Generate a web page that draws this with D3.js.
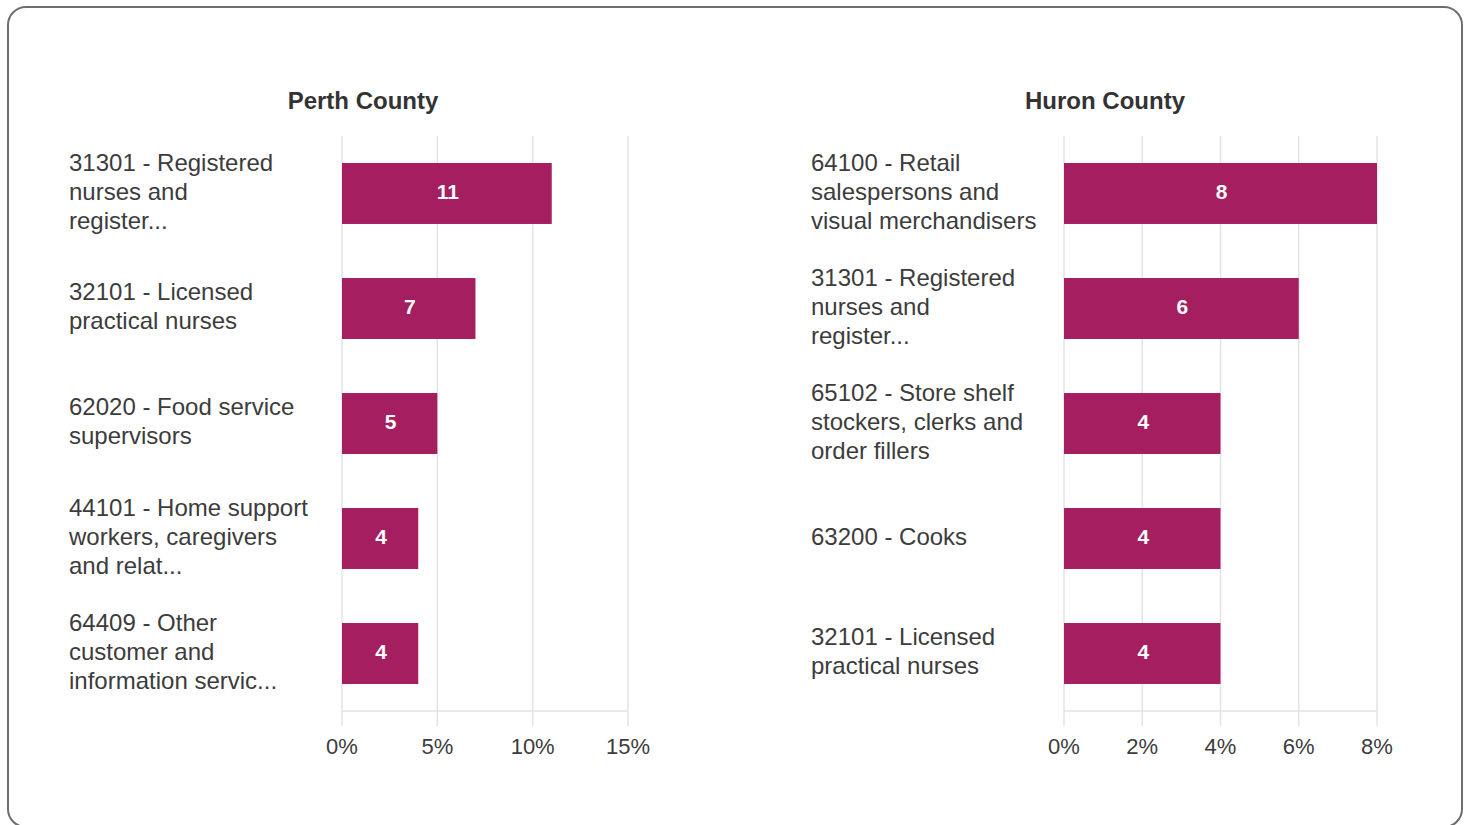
<!DOCTYPE html>
<html>
<head>
<meta charset="utf-8">
<script src="https://cdn.jsdelivr.net/npm/d3@7"></script>
<style>
  html, body { margin: 0; padding: 0; background: #fff; }
  svg { display: block; font-family: "Liberation Sans", Arial, sans-serif; }
</style>
</head>
<body>
<svg id="chart" width="1469" height="825"></svg>
<script>
// ---- Data ----
const perthTitle = "Perth County";
const perthCategories = [
  ["31301 - Registered", "nurses and", "register..."],
  ["32101 - Licensed", "practical nurses"],
  ["62020 - Food service", "supervisors"],
  ["44101 - Home support", "workers, caregivers", "and relat..."],
  ["64409 - Other", "customer and", "information servic..."]
];
const perthValues = [11, 7, 5, 4, 4];
const perthTicks = [0, 5, 10, 15];

const huronTitle = "Huron County";
const huronCategories = [
  ["64100 - Retail", "salespersons and", "visual merchandisers"],
  ["31301 - Registered", "nurses and", "register..."],
  ["65102 - Store shelf", "stockers, clerks and", "order fillers"],
  ["63200 - Cooks"],
  ["32101 - Licensed", "practical nurses"]
];
const huronValues = [8, 6, 4, 4, 4];
const huronTicks = [0, 2, 4, 6, 8];

// ---- Drawing ----
const svg = d3.select("#chart");
const barColor = "#a51e5f";
const gridColor = "#e3e3e3";
const textColor = "#3c3c3c";

svg.append("rect")
  .attr("x", 8).attr("y", 7).attr("width", 1454).attr("height", 820)
  .attr("rx", 18).attr("ry", 18)
  .attr("fill", "#fff").attr("stroke", "#6e6e6e").attr("stroke-width", 2);

function panel(cfg) {
  const g = svg.append("g");
  const x = d3.scaleLinear().domain([0, cfg.max]).range([cfg.x0, cfg.x1]);
  const y = d3.scaleBand().domain(d3.range(cfg.cats.length))
    .range([136, 711]).paddingInner(0.47).paddingOuter(0.235);

  // title
  g.append("text").attr("x", cfg.titleX).attr("y", 109)
    .attr("text-anchor", "middle").attr("font-size", 24).attr("font-weight", "bold")
    .attr("fill", "#333").text(cfg.title);

  // grid lines
  g.selectAll(".grid").data(cfg.ticks).join("line")
    .attr("x1", d => x(d)).attr("x2", d => x(d))
    .attr("y1", 136).attr("y2", 726)
    .attr("stroke", gridColor).attr("stroke-width", 1.5);
  // baseline
  g.append("line").attr("x1", cfg.x0).attr("x2", cfg.x1)
    .attr("y1", 711).attr("y2", 711)
    .attr("stroke", gridColor).attr("stroke-width", 1.5);

  // tick labels
  g.selectAll(".tick").data(cfg.ticks).join("text")
    .attr("x", d => x(d)).attr("y", 754)
    .attr("text-anchor", "middle").attr("font-size", 22)
    .attr("fill", textColor).text(d => d + "%");

  // bars
  g.selectAll(".bar").data(cfg.vals).join("rect")
    .attr("x", x(0)).attr("y", (d, i) => y(i))
    .attr("width", d => x(d) - x(0)).attr("height", y.bandwidth())
    .attr("fill", barColor);

  // bar labels
  g.selectAll(".blab").data(cfg.vals).join("text")
    .attr("x", d => (x(0) + x(d)) / 2 + 1)
    .attr("y", (d, i) => y(i) + y.bandwidth() / 2 + 5)
    .attr("text-anchor", "middle").attr("font-size", 21).attr("font-weight", "bold")
    .attr("fill", "#fff").text(d => d);

  // category labels
  const lh = 29;
  cfg.cats.forEach((lines, i) => {
    const cy = y(i) + y.bandwidth() / 2 - 2;
    const t = g.append("text").attr("font-size", 24).attr("fill", textColor);
    lines.forEach((ln, j) => {
      t.append("tspan").attr("x", cfg.labelX)
        .attr("y", cy + (j - (lines.length - 1) / 2) * lh + 8)
        .text(ln);
    });
  });
}

panel({ title: perthTitle, titleX: 363, cats: perthCategories, vals: perthValues,
        ticks: perthTicks, max: 15, x0: 342, x1: 628, labelX: 69 });
panel({ title: huronTitle, titleX: 1105, cats: huronCategories, vals: huronValues,
        ticks: huronTicks, max: 8, x0: 1064, x1: 1377, labelX: 811 });
</script>
</body>
</html>
